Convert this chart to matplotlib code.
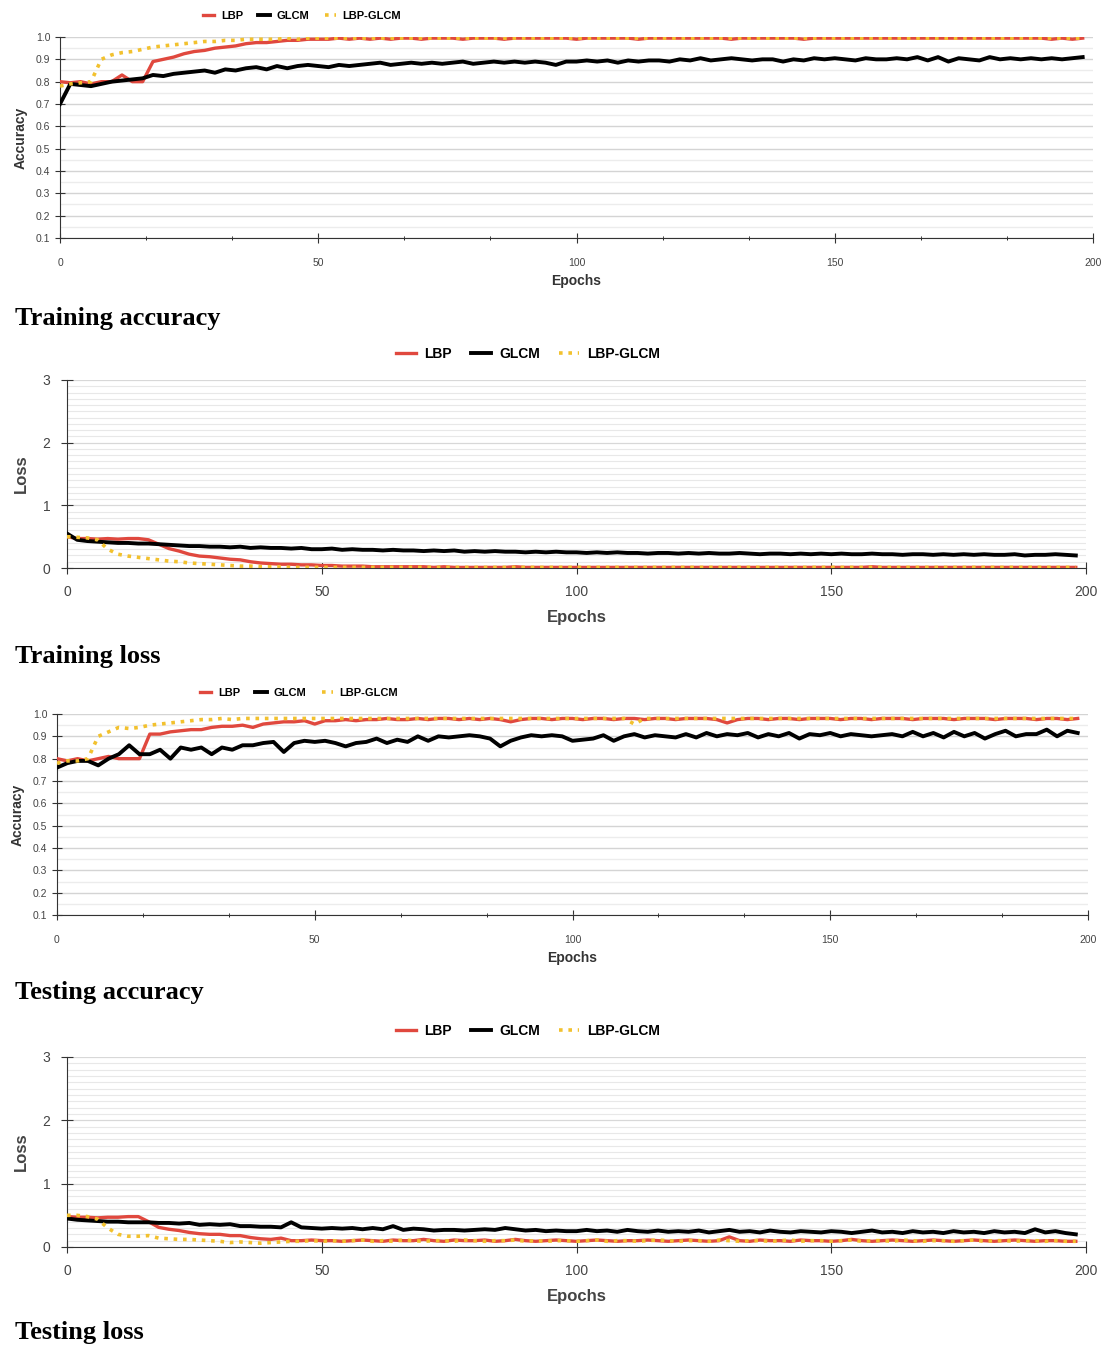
import numpy as np
import matplotlib
matplotlib.use("Agg")
from matplotlib import pyplot as plt
from matplotlib.ticker import MultipleLocator

# Epochs are sampled every 2 (0..198)
epochs = np.arange(0, 200, 2)

# ---- Training accuracy ----
tr_acc_lbp = [0.80, 0.795, 0.80, 0.79, 0.80, 0.80, 0.83, 0.80, 0.80, 0.89,
              0.90, 0.91, 0.925, 0.935, 0.94, 0.95, 0.955, 0.96, 0.97, 0.975,
              0.975, 0.98, 0.985, 0.985, 0.99, 0.99, 0.99, 0.995, 0.99, 0.995,
              0.99, 0.995, 0.99, 0.995, 0.995, 0.99, 0.995, 0.995, 0.995, 0.99,
              0.995, 0.995, 0.995, 0.99, 0.995, 0.995, 0.995, 0.995, 0.995, 0.995,
              0.99, 0.995, 0.995, 0.995, 0.995, 0.995, 0.99, 0.995, 0.995, 0.995,
              0.995, 0.995, 0.995, 0.995, 0.995, 0.99, 0.995, 0.995, 0.995, 0.995,
              0.995, 0.995, 0.99, 0.995, 0.995, 0.995, 0.995, 0.995, 0.995, 0.995,
              0.995, 0.995, 0.995, 0.995, 0.995, 0.995, 0.995, 0.995, 0.995, 0.995,
              0.995, 0.995, 0.995, 0.995, 0.995, 0.995, 0.99, 0.995, 0.99, 0.995]
tr_acc_glcm = [0.70, 0.79, 0.785, 0.78, 0.79, 0.80, 0.805, 0.81, 0.815, 0.83,
               0.825, 0.835, 0.84, 0.845, 0.85, 0.84, 0.855, 0.85, 0.86, 0.865,
               0.855, 0.87, 0.86, 0.87, 0.875, 0.87, 0.865, 0.875, 0.87, 0.875,
               0.88, 0.885, 0.875, 0.88, 0.885, 0.88, 0.885, 0.88, 0.885, 0.89,
               0.88, 0.885, 0.89, 0.885, 0.89, 0.885, 0.89, 0.885, 0.875, 0.89,
               0.89, 0.895, 0.89, 0.895, 0.885, 0.895, 0.89, 0.895, 0.895, 0.89,
               0.90, 0.895, 0.905, 0.895, 0.90, 0.905, 0.90, 0.895, 0.90, 0.90,
               0.89, 0.90, 0.895, 0.905, 0.90, 0.905, 0.90, 0.895, 0.905, 0.90,
               0.90, 0.905, 0.90, 0.91, 0.895, 0.91, 0.89, 0.905, 0.90, 0.895,
               0.91, 0.90, 0.905, 0.90, 0.905, 0.90, 0.905, 0.90, 0.905, 0.91]
tr_acc_mix = [0.78, 0.79, 0.795, 0.80, 0.90, 0.92, 0.93, 0.935, 0.945, 0.955,
              0.96, 0.965, 0.97, 0.975, 0.98, 0.98, 0.985, 0.985, 0.99, 0.99,
              0.99, 0.99, 0.995, 0.99, 0.995, 0.995, 0.995, 0.995, 0.995, 0.995,
              0.995, 0.995, 0.995, 0.995, 0.995, 0.995, 0.995, 0.995, 0.995, 0.995,
              0.995, 0.995, 0.995, 0.995, 0.995, 0.995, 0.995, 0.995, 0.995, 0.995,
              0.995, 0.995, 0.995, 0.995, 0.995, 0.995, 0.995, 0.995, 0.995, 0.995,
              0.995, 0.995, 0.995, 0.995, 0.995, 0.995, 0.995, 0.995, 0.995, 0.995,
              0.995, 0.995, 0.995, 0.995, 0.995, 0.995, 0.995, 0.995, 0.995, 0.995,
              0.995, 0.995, 0.995, 0.995, 0.995, 0.995, 0.995, 0.995, 0.995, 0.995,
              0.995, 0.995, 0.995, 0.995, 0.995, 0.995, 0.995, 0.995, 0.995, 0.995]

# ---- Training loss ----
tr_loss_lbp = [0.50, 0.47, 0.47, 0.46, 0.47, 0.46, 0.47, 0.47, 0.45, 0.38,
               0.31, 0.27, 0.22, 0.19, 0.18, 0.16, 0.14, 0.13, 0.10, 0.08,
               0.07, 0.06, 0.06, 0.05, 0.05, 0.04, 0.04, 0.03, 0.03, 0.03,
               0.02, 0.02, 0.02, 0.02, 0.02, 0.02, 0.01, 0.02, 0.01, 0.01,
               0.01, 0.01, 0.01, 0.01, 0.02, 0.01, 0.01, 0.01, 0.01, 0.01,
               0.01, 0.01, 0.01, 0.01, 0.01, 0.01, 0.01, 0.01, 0.01, 0.01,
               0.01, 0.01, 0.01, 0.01, 0.01, 0.01, 0.01, 0.01, 0.01, 0.01,
               0.01, 0.01, 0.01, 0.01, 0.01, 0.01, 0.01, 0.01, 0.01, 0.02,
               0.01, 0.01, 0.01, 0.01, 0.01, 0.01, 0.01, 0.01, 0.01, 0.01,
               0.01, 0.01, 0.01, 0.01, 0.01, 0.01, 0.01, 0.01, 0.01, 0.01]
tr_loss_glcm = [0.55, 0.45, 0.43, 0.42, 0.41, 0.40, 0.40, 0.39, 0.39, 0.38,
                0.37, 0.36, 0.35, 0.35, 0.34, 0.34, 0.33, 0.34, 0.32, 0.33,
                0.32, 0.32, 0.31, 0.32, 0.30, 0.30, 0.31, 0.29, 0.30, 0.29,
                0.29, 0.28, 0.29, 0.28, 0.28, 0.27, 0.28, 0.27, 0.28, 0.26,
                0.27, 0.26, 0.27, 0.26, 0.26, 0.25, 0.26, 0.25, 0.26, 0.25,
                0.25, 0.24, 0.25, 0.24, 0.25, 0.24, 0.24, 0.23, 0.24, 0.24,
                0.23, 0.24, 0.23, 0.24, 0.23, 0.23, 0.24, 0.23, 0.22, 0.23,
                0.23, 0.22, 0.23, 0.22, 0.23, 0.22, 0.23, 0.22, 0.22, 0.23,
                0.22, 0.22, 0.21, 0.22, 0.22, 0.21, 0.22, 0.21, 0.22, 0.21,
                0.22, 0.21, 0.21, 0.22, 0.20, 0.21, 0.21, 0.22, 0.21, 0.20]
tr_loss_mix = [0.50, 0.49, 0.48, 0.45, 0.30, 0.22, 0.19, 0.17, 0.15, 0.13,
               0.11, 0.10, 0.08, 0.07, 0.06, 0.05, 0.04, 0.03, 0.03, 0.02,
               0.02, 0.02, 0.01, 0.01, 0.01, 0.01, 0.01, 0.01, 0.01, 0.01,
               0.01, 0.01, 0.01, 0.01, 0.01, 0.01, 0.01, 0.01, 0.01, 0.01,
               0.01, 0.01, 0.01, 0.01, 0.01, 0.01, 0.01, 0.01, 0.01, 0.01,
               0.01, 0.01, 0.01, 0.01, 0.01, 0.01, 0.01, 0.01, 0.01, 0.01,
               0.01, 0.01, 0.01, 0.01, 0.01, 0.01, 0.01, 0.01, 0.01, 0.01,
               0.01, 0.01, 0.01, 0.01, 0.01, 0.01, 0.01, 0.01, 0.01, 0.01,
               0.01, 0.01, 0.01, 0.01, 0.01, 0.01, 0.01, 0.01, 0.01, 0.01,
               0.01, 0.01, 0.01, 0.01, 0.01, 0.01, 0.01, 0.01, 0.01, 0.01]

# ---- Testing accuracy ----
te_acc_lbp = [0.80, 0.79, 0.80, 0.79, 0.80, 0.81, 0.80, 0.80, 0.80, 0.91,
              0.91, 0.92, 0.925, 0.93, 0.93, 0.94, 0.945, 0.945, 0.95, 0.94,
              0.955, 0.96, 0.965, 0.965, 0.97, 0.955, 0.97, 0.97, 0.975, 0.97,
              0.975, 0.975, 0.98, 0.975, 0.975, 0.98, 0.975, 0.98, 0.98, 0.975,
              0.98, 0.975, 0.98, 0.975, 0.965, 0.975, 0.98, 0.98, 0.975, 0.98,
              0.98, 0.975, 0.98, 0.98, 0.975, 0.98, 0.98, 0.975, 0.98, 0.98,
              0.975, 0.98, 0.98, 0.98, 0.975, 0.96, 0.975, 0.98, 0.98, 0.975,
              0.98, 0.98, 0.975, 0.98, 0.98, 0.98, 0.975, 0.98, 0.98, 0.975,
              0.98, 0.98, 0.98, 0.975, 0.98, 0.98, 0.98, 0.975, 0.98, 0.98,
              0.98, 0.975, 0.98, 0.98, 0.98, 0.975, 0.98, 0.98, 0.975, 0.98]
te_acc_glcm = [0.76, 0.78, 0.79, 0.79, 0.77, 0.80, 0.82, 0.86, 0.82, 0.82,
               0.84, 0.80, 0.85, 0.84, 0.85, 0.82, 0.85, 0.84, 0.86, 0.86,
               0.87, 0.875, 0.83, 0.87, 0.88, 0.875, 0.88, 0.87, 0.855, 0.87,
               0.875, 0.89, 0.87, 0.885, 0.875, 0.90, 0.88, 0.90, 0.895, 0.90,
               0.905, 0.90, 0.89, 0.855, 0.88, 0.895, 0.905, 0.90, 0.905, 0.90,
               0.88, 0.885, 0.89, 0.905, 0.88, 0.90, 0.91, 0.895, 0.905, 0.90,
               0.895, 0.91, 0.895, 0.915, 0.90, 0.91, 0.905, 0.915, 0.895, 0.91,
               0.90, 0.915, 0.89, 0.91, 0.905, 0.915, 0.90, 0.91, 0.905, 0.90,
               0.905, 0.91, 0.90, 0.92, 0.90, 0.915, 0.895, 0.92, 0.90, 0.915,
               0.89, 0.91, 0.925, 0.90, 0.91, 0.91, 0.93, 0.90, 0.925, 0.915]
te_acc_mix = [0.78, 0.79, 0.79, 0.80, 0.90, 0.92, 0.94, 0.935, 0.94, 0.95,
              0.955, 0.96, 0.965, 0.97, 0.975, 0.975, 0.98, 0.975, 0.98, 0.98,
              0.98, 0.98, 0.98, 0.98, 0.98, 0.98, 0.98, 0.98, 0.98, 0.98,
              0.98, 0.98, 0.98, 0.98, 0.98, 0.98, 0.98, 0.98, 0.98, 0.98,
              0.98, 0.98, 0.98, 0.98, 0.98, 0.98, 0.98, 0.98, 0.98, 0.98,
              0.98, 0.98, 0.98, 0.98, 0.98, 0.98, 0.955, 0.98, 0.98, 0.98,
              0.98, 0.98, 0.98, 0.98, 0.98, 0.98, 0.98, 0.98, 0.98, 0.98,
              0.98, 0.98, 0.98, 0.98, 0.98, 0.98, 0.98, 0.98, 0.98, 0.98,
              0.98, 0.98, 0.98, 0.98, 0.98, 0.98, 0.98, 0.98, 0.98, 0.98,
              0.98, 0.98, 0.98, 0.98, 0.98, 0.98, 0.98, 0.98, 0.98, 0.98]

# ---- Testing loss ----
te_loss_lbp = [0.48, 0.47, 0.47, 0.46, 0.47, 0.47, 0.48, 0.48, 0.40, 0.31,
               0.28, 0.26, 0.23, 0.21, 0.20, 0.20, 0.18, 0.18, 0.15, 0.13,
               0.12, 0.14, 0.10, 0.10, 0.11, 0.10, 0.10, 0.09, 0.10, 0.11,
               0.10, 0.09, 0.11, 0.10, 0.10, 0.12, 0.10, 0.09, 0.11, 0.10,
               0.10, 0.11, 0.09, 0.10, 0.12, 0.10, 0.09, 0.10, 0.11, 0.10,
               0.09, 0.10, 0.11, 0.10, 0.09, 0.10, 0.10, 0.11, 0.10, 0.09,
               0.10, 0.11, 0.10, 0.09, 0.10, 0.16, 0.10, 0.09, 0.11, 0.10,
               0.10, 0.09, 0.11, 0.10, 0.10, 0.09, 0.10, 0.12, 0.10, 0.09,
               0.10, 0.11, 0.10, 0.09, 0.10, 0.11, 0.10, 0.09, 0.10, 0.11,
               0.10, 0.09, 0.10, 0.11, 0.10, 0.09, 0.10, 0.10, 0.09, 0.09]
te_loss_glcm = [0.45, 0.43, 0.42, 0.41, 0.40, 0.40, 0.39, 0.39, 0.39, 0.38,
                0.38, 0.37, 0.38, 0.35, 0.36, 0.35, 0.36, 0.33, 0.33, 0.32,
                0.32, 0.31, 0.39, 0.31, 0.30, 0.29, 0.30, 0.29, 0.30, 0.28,
                0.30, 0.28, 0.33, 0.27, 0.29, 0.28, 0.26, 0.27, 0.27, 0.26,
                0.27, 0.28, 0.27, 0.30, 0.28, 0.26, 0.27, 0.25, 0.26, 0.25,
                0.25, 0.27, 0.25, 0.26, 0.24, 0.27, 0.25, 0.24, 0.26, 0.24,
                0.25, 0.24, 0.26, 0.23, 0.25, 0.27, 0.24, 0.25, 0.23, 0.26,
                0.24, 0.23, 0.25, 0.24, 0.23, 0.25, 0.24, 0.22, 0.24, 0.26,
                0.23, 0.24, 0.22, 0.25, 0.23, 0.24, 0.22, 0.25, 0.23, 0.24,
                0.22, 0.25, 0.23, 0.24, 0.22, 0.28, 0.23, 0.25, 0.22, 0.20]
te_loss_mix = [0.50, 0.50, 0.48, 0.44, 0.30, 0.20, 0.17, 0.17, 0.18, 0.14,
               0.13, 0.12, 0.12, 0.11, 0.10, 0.09, 0.07, 0.08, 0.07, 0.06,
               0.07, 0.08, 0.09, 0.09, 0.10, 0.09, 0.10, 0.09, 0.10, 0.11,
               0.09, 0.10, 0.09, 0.11, 0.10, 0.09, 0.10, 0.10, 0.09, 0.11,
               0.10, 0.09, 0.10, 0.10, 0.11, 0.09, 0.10, 0.09, 0.10, 0.10,
               0.09, 0.10, 0.11, 0.09, 0.10, 0.10, 0.09, 0.10, 0.11, 0.10,
               0.09, 0.10, 0.10, 0.09, 0.11, 0.10, 0.09, 0.10, 0.10, 0.09,
               0.10, 0.11, 0.09, 0.10, 0.10, 0.09, 0.10, 0.11, 0.09, 0.10,
               0.10, 0.09, 0.11, 0.10, 0.09, 0.10, 0.10, 0.09, 0.10, 0.11,
               0.09, 0.10, 0.10, 0.09, 0.10, 0.10, 0.09, 0.10, 0.09, 0.09]

series_names = ["LBP", "GLCM", "LBP-GLCM"]
captions = ["Training accuracy", "Training loss", "Testing accuracy", "Testing loss"]

RED = "#e0483e"
GOLD = "#f2c12e"
W, H = 1107, 1347


def px(x0, y_top, x1, y_bot):
    # pixel box -> figure fraction rect
    return [x0 / W, 1 - y_bot / H, (x1 - x0) / W, (y_bot - y_top) / H]


fig = plt.figure(figsize=(W / 100, H / 100), dpi=100)
plt.rcParams["font.family"] = ["Liberation Sans", "DejaVu Sans"]

panels = [
    # box, kind, data, legend centre (px), caption y (px)
    (px(60, 37, 1093, 238), "acc", (tr_acc_lbp, tr_acc_glcm, tr_acc_mix), (302, 16), 318),
    (px(67, 380, 1086, 568), "loss", (tr_loss_lbp, tr_loss_glcm, tr_loss_mix), (528, 354), 657),
    (px(57, 714, 1088, 915), "acc", (te_acc_lbp, te_acc_glcm, te_acc_mix), (299, 693), 993),
    (px(67, 1057, 1086, 1247), "loss", (te_loss_lbp, te_loss_glcm, te_loss_mix), (528, 1031), 1333),
]

for (box, kind, data, leg_xy, cap_y), caption in zip(panels, captions):
    ax = fig.add_axes(box)
    lbp, glcm, mix = data
    ax.plot(epochs, lbp, color=RED, lw=2.4, label=series_names[0], zorder=3)
    ax.plot(epochs, glcm, color="black", lw=2.8, label=series_names[1], zorder=4)
    ax.plot(epochs, mix, color=GOLD, lw=2.6, linestyle=(0, (1.0, 1.6)),
            label=series_names[2], zorder=5)

    ax.set_xlim(0, 200)
    ax.xaxis.set_major_locator(MultipleLocator(50))
    for s in ("top", "right"):
        ax.spines[s].set_visible(False)
    ax.spines["left"].set_color("#333333")
    ax.spines["bottom"].set_color("#333333")

    if kind == "acc":
        ax.set_ylim(0.1, 1.0)
        ax.yaxis.set_major_locator(MultipleLocator(0.1))
        ax.yaxis.set_minor_locator(MultipleLocator(0.05))
        ax.xaxis.set_minor_locator(MultipleLocator(50 / 3))
        ax.set_yticklabels([f"{v:.1f}" for v in ax.get_yticks()])
        ax.grid(axis="y", which="major", color="#d4d4d4", lw=1.0)
        ax.grid(axis="y", which="minor", color="#ececec", lw=1.0)
        ax.tick_params(axis="both", which="major", direction="inout", length=7,
                       labelsize=7.5, colors="#333333", labelcolor="#444444")
        ax.tick_params(axis="x", which="major", pad=11)
        ax.tick_params(axis="x", which="minor", direction="inout", length=3)
        ax.tick_params(axis="y", which="minor", length=0)
        ax.set_xlabel("Epochs", fontsize=10, fontweight="semibold", labelpad=4,
                      color="#333333")
        ax.set_ylabel("Accuracy", fontsize=10, fontweight="semibold", labelpad=6,
                      color="#333333")
        leg_fs, hl = 8, 1.0
    else:
        ax.set_ylim(0, 3)
        ax.yaxis.set_major_locator(MultipleLocator(1))
        ax.yaxis.set_minor_locator(MultipleLocator(0.1))
        ax.grid(axis="y", which="major", color="#d8d8d8", lw=0.9)
        ax.grid(axis="y", which="minor", color="#e8e8e8", lw=0.8)
        ax.tick_params(axis="both", which="major", direction="inout", length=8,
                       labelsize=10, colors="#333333", labelcolor="#444444", pad=8)
        ax.tick_params(axis="y", which="minor", length=0)
        ax.set_xlabel("Epochs", fontsize=12, fontweight="bold", labelpad=8,
                      color="#444444")
        ax.set_ylabel("Loss", fontsize=12, fontweight="bold", labelpad=10,
                      color="#444444")
        leg_fs, hl = 10, 1.4

    ax.legend(loc="center", bbox_to_anchor=(leg_xy[0] / W, 1 - leg_xy[1] / H),
              bbox_transform=fig.transFigure, ncol=3, frameon=False,
              prop={"weight": "bold", "size": leg_fs},
              handlelength=hl, handletextpad=0.6, columnspacing=1.4)

    fig.text(15 / W, 1 - cap_y / H, caption, ha="left", va="center",
             fontsize=19, fontweight="bold", family="Liberation Serif")

fig.savefig("out.png", dpi=100)
